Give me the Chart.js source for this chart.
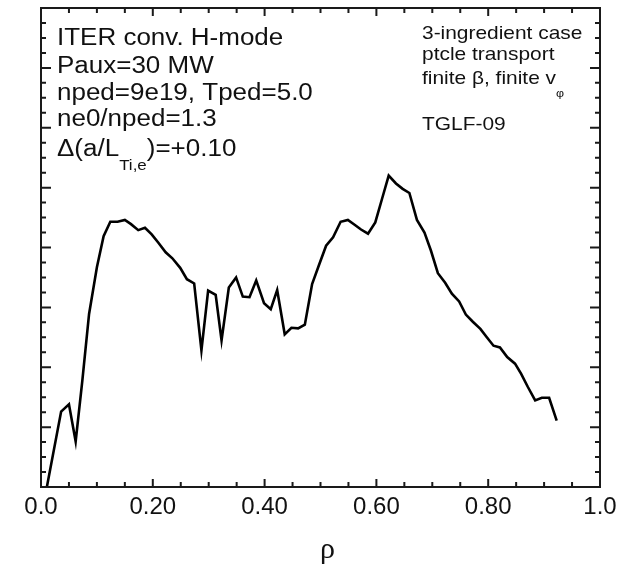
<!DOCTYPE html>
<html>
<head>
<meta charset="utf-8">
<script src="https://cdn.jsdelivr.net/npm/chart.js@4.4.1/dist/chart.umd.min.js"></script>
<style>
  html, body { margin: 0; padding: 0; background: #fff; }
  canvas { display: block; }
</style>
</head>
<body>
<canvas id="chart" width="633" height="569"></canvas>
<script>
// Profile vs normalized radius
const rho = [
    0.0105, 0.036, 0.050, 0.062, 0.074, 0.086, 0.100, 0.112, 0.124, 0.137,
    0.150, 0.161, 0.174, 0.186, 0.198, 0.210, 0.223, 0.235, 0.249, 0.261,
    0.274, 0.287, 0.299, 0.3125, 0.323, 0.336, 0.349, 0.361, 0.373, 0.385,
    0.399, 0.411, 0.4225, 0.436, 0.448, 0.460, 0.472, 0.485, 0.497, 0.510,
    0.5225, 0.536, 0.549, 0.561, 0.5725, 0.585, 0.598, 0.610, 0.622, 0.635,
    0.647, 0.659, 0.6725, 0.686, 0.6975, 0.710, 0.723, 0.735, 0.748, 0.760,
    0.7725, 0.786, 0.7975, 0.8095, 0.821, 0.834, 0.848, 0.859, 0.871, 0.884,
    0.896, 0.909, 0.9225
];
const profile = [
    0.00, 1.26, 1.38, 0.76, 1.78, 2.89, 3.67, 4.19, 4.43, 4.43,
    4.46, 4.39, 4.29, 4.33, 4.22, 4.08, 3.92, 3.82, 3.66, 3.47,
    3.40, 2.28, 3.28, 3.21, 2.45, 3.33, 3.50, 3.18, 3.17, 3.45,
    3.07, 2.97, 3.29, 2.55, 2.66, 2.65, 2.71, 3.39, 3.70, 4.03,
    4.17, 4.43, 4.46, 4.38, 4.30, 4.23, 4.42, 4.81, 5.20, 5.07,
    4.98, 4.91, 4.46, 4.25, 3.95, 3.57, 3.41, 3.23, 3.10, 2.88,
    2.76, 2.64, 2.50, 2.36, 2.33, 2.17, 2.06, 1.89, 1.67, 1.445,
    1.49, 1.49, 1.11
];

const xTickValues = [0, 0.2, 0.4, 0.6, 0.8, 1.0];
const xTickLabels = ['0.0', '0.20', '0.40', '0.60', '0.80', '1.0'];
const xTitle = '\u03c1';

const leftNotes = ['ITER conv. H-mode', 'Paux=30 MW', 'nped=9e19, Tped=5.0', 'ne0/nped=1.3'];
const rightNotes = ['3-ingredient case', 'ptcle transport'];

const FONT = "'Liberation Sans', Arial, sans-serif";
const SX = 1.13; // the original lettering is a bit wide

// draw a run of text pieces, each [text, size, baselineY]
function drawRun(ctx, x, pieces) {
    pieces.forEach(([txt, size, by]) => {
        ctx.font = size + 'px ' + FONT;
        ctx.save();
        ctx.translate(x, by);
        ctx.scale(SX, 1);
        ctx.fillText(txt, 0, 0);
        ctx.restore();
        x += ctx.measureText(txt).width * SX;
    });
}

const framePlugin = {
    id: 'frame',
    afterDraw(chart) {
        const { ctx, chartArea: a, scales: { x, y } } = chart;
        ctx.save();
        ctx.strokeStyle = '#1a1a1a';
        ctx.lineWidth = 2;
        ctx.strokeRect(a.left, a.top, a.right - a.left, a.bottom - a.top);

        // inward ticks, x every 0.05
        ctx.beginPath();
        for (let i = 1; i < 20; i++) {
            const px = x.getPixelForValue(i * 0.05);
            const len = i % 4 === 0 ? 8 : 5;
            ctx.moveTo(px, a.bottom); ctx.lineTo(px, a.bottom - len);
            ctx.moveTo(px, a.top); ctx.lineTo(px, a.top + len);
        }
        // y every 0.25
        for (let i = 1; i < 32; i++) {
            const py = y.getPixelForValue(i * 0.25);
            const len = i % 4 === 0 ? 10 : 5;
            ctx.moveTo(a.left, py); ctx.lineTo(a.left + len, py);
            ctx.moveTo(a.right, py); ctx.lineTo(a.right - len, py);
        }
        ctx.stroke();

        ctx.fillStyle = '#111';
        // axis title, a little right of centre like the original
        ctx.font = "30px 'Liberation Serif', serif";
        ctx.textAlign = 'center';
        ctx.textBaseline = 'alphabetic';
        ctx.fillText(xTitle, (a.left + a.right) / 2 + 7, 558);
        ctx.textAlign = 'left';

        // annotations
        const lb = [45, 72.5, 99.5, 125.5];
        leftNotes.forEach((t, i) => drawRun(ctx, 57, [[t, 23, lb[i]]]));
        drawRun(ctx, 57, [['\u0394(a/L', 23, 156], ['Ti,e', 15, 170], [')=+0.10', 23, 156]]);

        drawRun(ctx, 422, [[rightNotes[0], 18.5, 38.5]]);
        drawRun(ctx, 422, [[rightNotes[1], 18.5, 59.5]]);
        drawRun(ctx, 422, [['finite \u03b2, finite v', 18.5, 83.5], ['\u03c6', 11, 97]]);
        drawRun(ctx, 422, [['TGLF-09', 18.5, 129.5]]);
        ctx.restore();
    }
};

new Chart(document.getElementById('chart'), {
    type: 'line',
    data: {
        datasets: [{
            data: rho.map((r, i) => ({ x: r, y: profile[i] })),
            borderColor: '#000',
            borderWidth: 2.6,
            pointRadius: 0,
            tension: 0,
            fill: false
        }]
    },
    options: {
        responsive: false,
        animation: false,
        layout: { padding: { top: 8, right: 33, left: 0, bottom: 0 } },
        plugins: { legend: { display: false }, tooltip: { enabled: false } },
        scales: {
            x: {
                type: 'linear',
                min: 0,
                max: 1,
                afterBuildTicks: (scale) => { scale.ticks = xTickValues.map(v => ({ value: v })); },
                afterFit: (scale) => { scale.height = 82; },
                grid: { display: false },
                border: { display: false },
                ticks: {
                    padding: -2,
                    color: '#111',
                    font: { family: FONT, size: 24 },
                    maxRotation: 0,
                    callback: (v, i) => xTickLabels[i]
                }
            },
            y: {
                min: 0,
                max: 8,
                afterFit: (scale) => { scale.width = 41; },
                grid: { display: false },
                border: { display: false },
                ticks: { display: false }
            }
        }
    },
    plugins: [framePlugin]
});
</script>
</body>
</html>
